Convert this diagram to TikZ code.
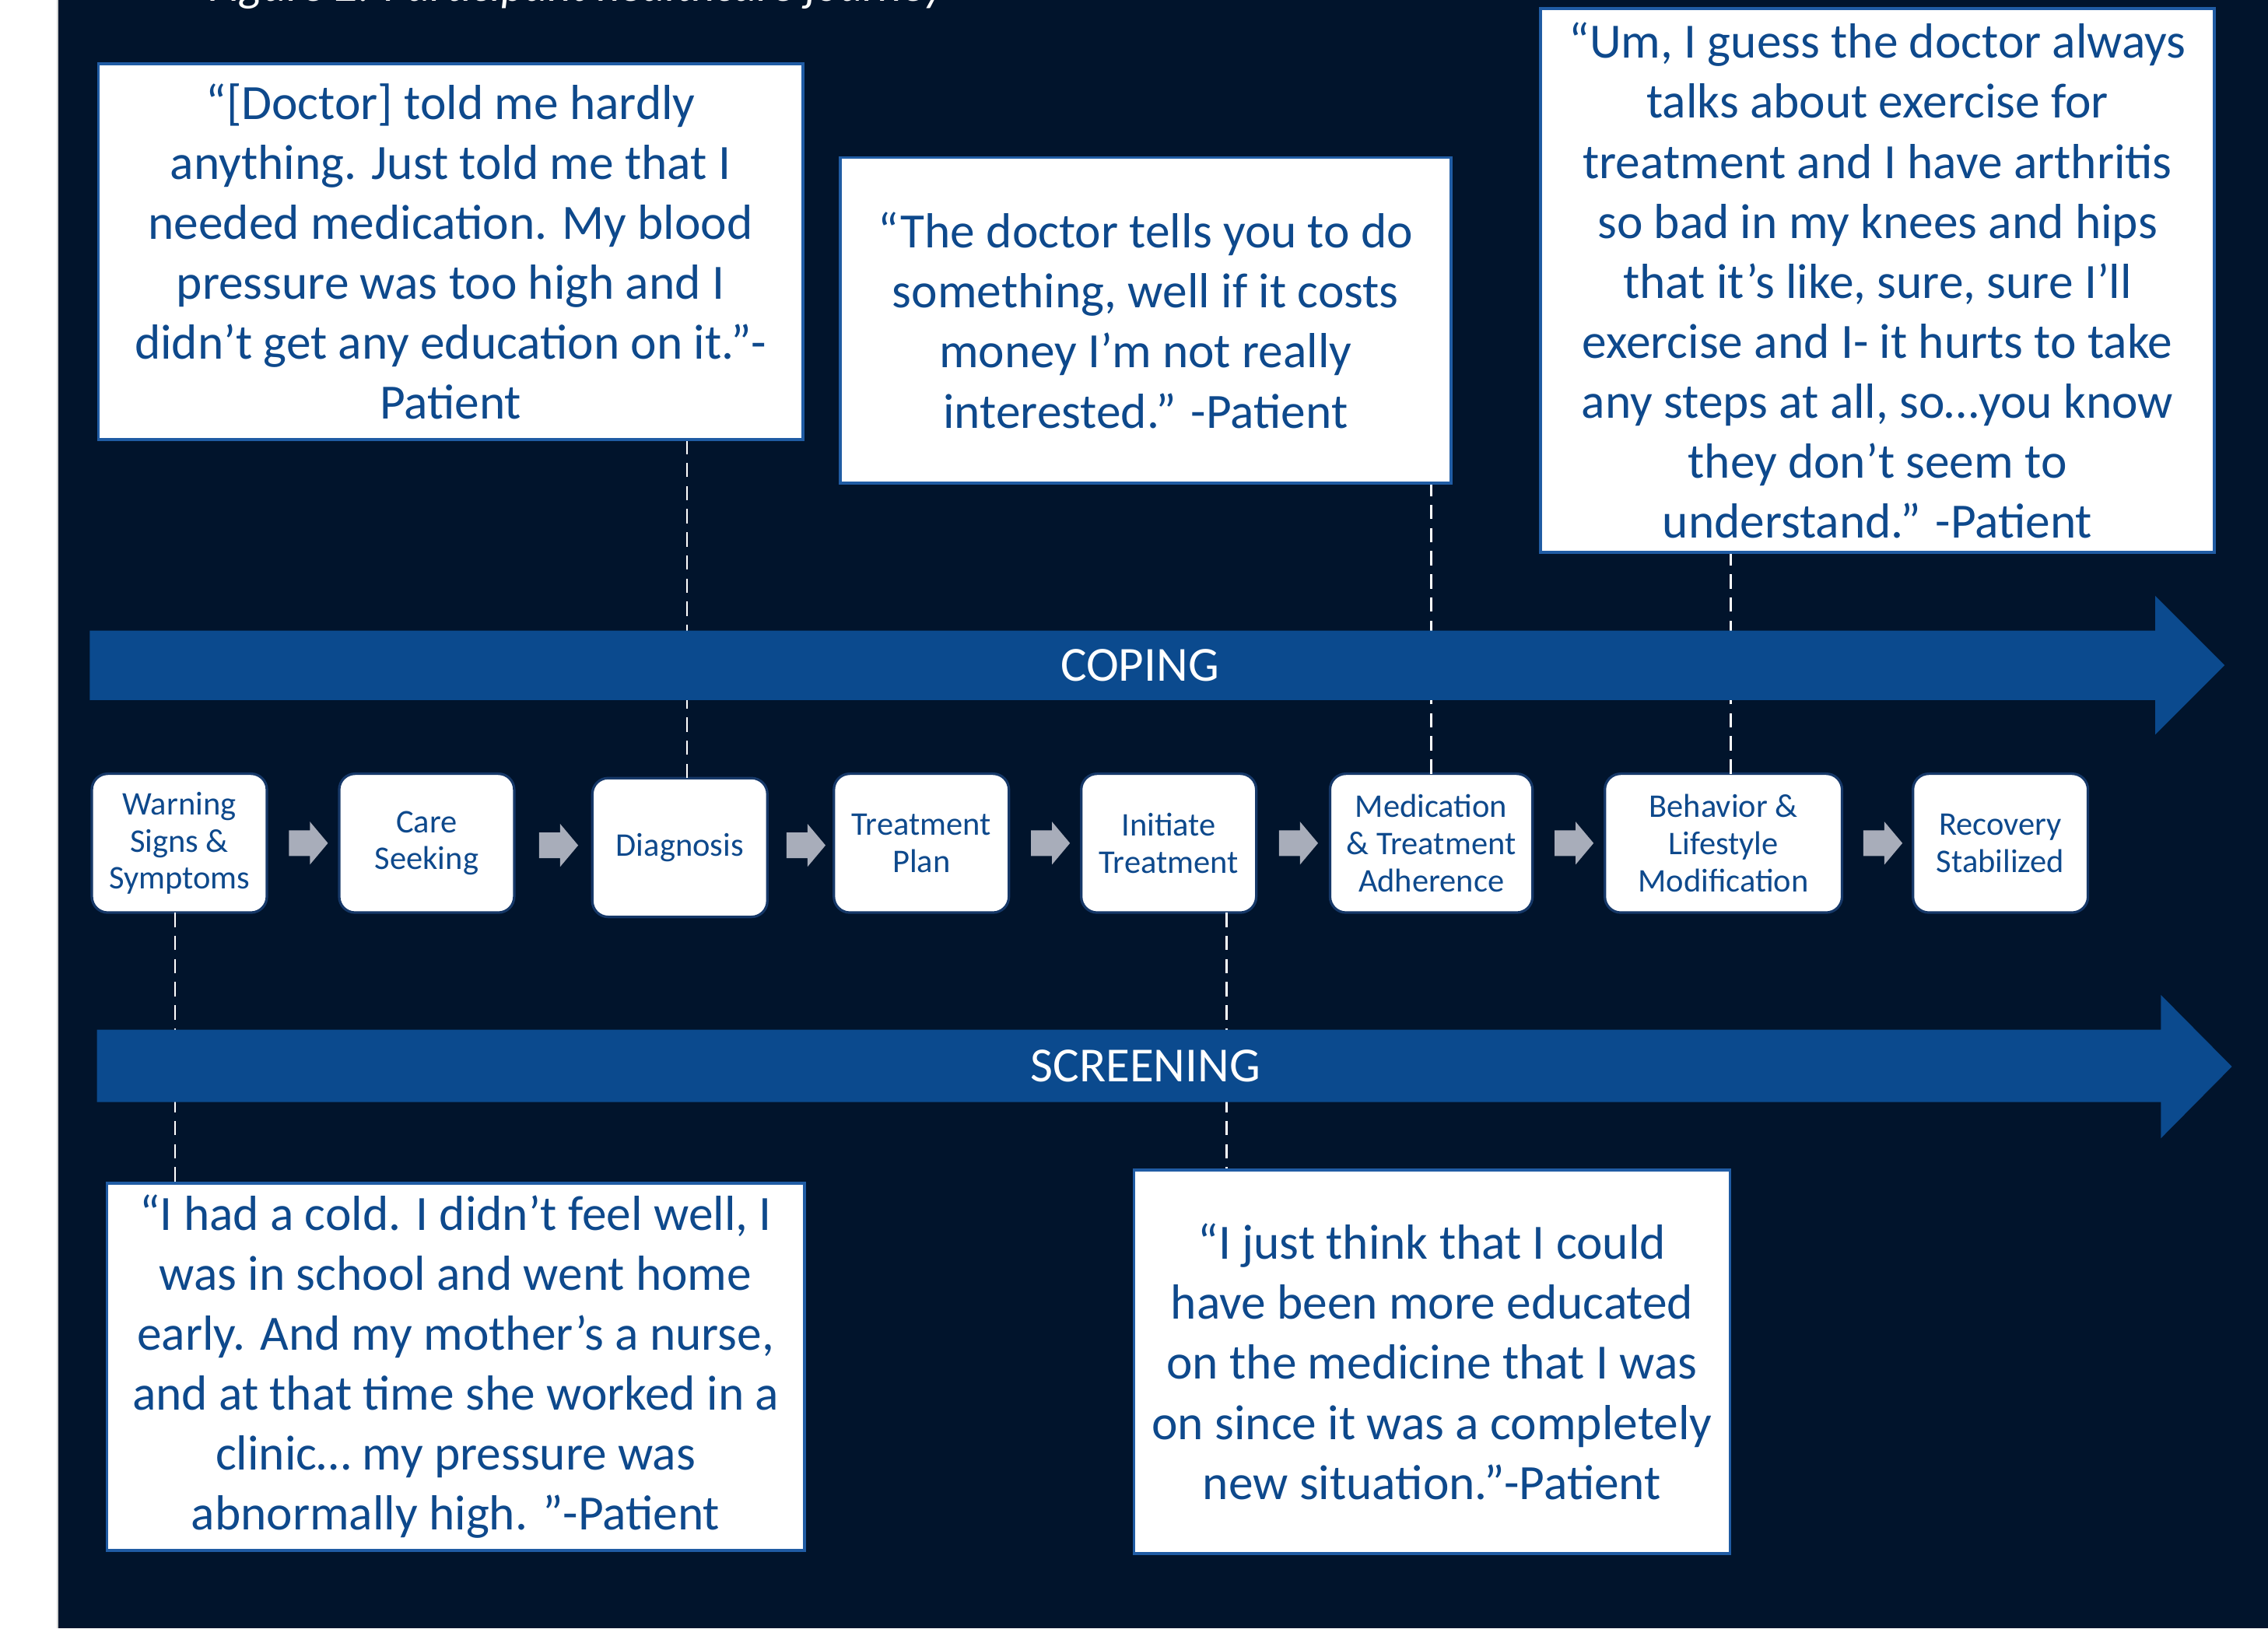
\documentclass[tikz,border=0pt]{standalone}
\usepackage{fontspec}
\setmainfont{Carlito}
\usetikzlibrary{positioning, calc, shapes.arrows}
\definecolor{navy}{RGB}{1,20,44}
\definecolor{bandblue}{RGB}{11,74,142}
\definecolor{txtblue}{RGB}{14,73,140}
\definecolor{qborder}{RGB}{32,92,164}
\definecolor{stepedge}{RGB}{22,56,104}
\definecolor{gapgray}{RGB}{168,173,186}

\begin{document}
\begin{tikzpicture}
	[x=0.2mm, y=-0.2mm,
	step box/.style={draw=stepedge, line width=0.35mm, fill=white, rounded corners=2.2mm, text=txtblue, align=center, minimum width=24.2mm, minimum height=19.2mm, inner sep=0pt, outer sep=0pt, font=\fontsize{13}{14.6}\selectfont},
	quote box/.style={draw=qborder, line width=0.4mm, fill=white, text=txtblue, align=center, inner sep=0pt, font=\fontsize{19.4}{23.6}\selectfont},
	gap arrow/.style={single arrow, fill=gapgray, minimum height=5.4mm, inner xsep=0pt, inner ysep=1.7mm, single arrow head extend=1.2mm, single arrow head indent=0pt, single arrow tip angle=100},
	dash line/.style={white, line width=0.3mm, dash pattern=on 2mm off 1.2mm},
	band/.style={fill=bandblue},
	band label/.style={text=white, font=\fontsize{19.3}{23}\selectfont}]
   \useasboundingbox (0,0) rectangle (1568,1126);
   \fill[white] (0,0) rectangle (1568,1126);
   \fill[navy] (40,0) rectangle (1568,1126);
   \draw[gray!35, line width=0.2mm] (40,0) -- (40,1126);
   \node[text=white, anchor=base west, font=\fontsize{18}{22}\selectfont\itshape] (title) at (138,1) {Figure 2: Participant healthcare journey};

   \node[step box] (s_1) at (124,583) {Warning\\Signs \&\\Symptoms};
   \node[step box] (s_2) [right=10mm of s_1] {Care\\Seeking};
   \node[step box] (s_3) [right=10.8mm of s_2, yshift=-0.6mm] {Diagnosis};
   \node[step box] (s_4) [right=9.2mm of s_3, yshift=0.6mm] {Treatment\\Plan};
   \node[step box] (s_5) [right=10mm of s_4] {Initiate\\Treatment};
   \node[step box, minimum width=28mm] (s_6) [right=10.2mm of s_5] {Medication\\\& Treatment\\Adherence};
   \node[step box, minimum width=32.8mm] (s_7) [right=10mm of s_6] {Behavior \&\\Lifestyle\\Modification};
   \node[step box] (s_8) [right=9.8mm of s_7] {Recovery\\Stabilized};
   \foreach \i/\j in {1/2,2/3,3/4,4/5,5/6,6/7,7/8}
      \node[gap arrow] (a_\i) at ($(s_\i.east)!0.5!(s_\j.west)$) {};

   \node[quote box, minimum width=97.4mm, minimum height=52mm] (qt_1) at (311.5,174) {“[Doctor] told me hardly\\anything. Just told me that I\\needed medication. My blood\\pressure was too high and I\\didn’t get any education on it.”-\\Patient};
   \node[quote box, minimum width=84.4mm, minimum height=45mm] (qt_2) at (792,221.5) {“The doctor tells you to do\\something, well if it costs\\money I’m not really\\interested.” -Patient};
   \node[quote box, minimum width=93.2mm, minimum height=75.2mm] (qt_3) at (1298,194) {“Um, I guess the doctor always\\talks about exercise for\\treatment and I have arthritis\\so bad in my knees and hips\\that it’s like, sure, sure I’ll\\exercise and I- it hurts to take\\any steps at all, so…you know\\they don’t seem to\\understand.” -Patient};
   \node[quote box, minimum width=96.4mm, minimum height=50.8mm] (qt_4) at (315,945) {“I had a cold. I didn’t feel well, I\\was in school and went home\\early. And my mother’s a nurse,\\and at that time she worked in a\\clinic… my pressure was\\abnormally high. ”-Patient};
   \node[quote box, minimum width=82.4mm, minimum height=53mm] (qt_5) at (990,941.5) {“I just think that I could\\have been more educated\\on the medicine that I was\\on since it was a completely\\new situation.”-Patient};

   \coordinate (d_1) at ($(s_3.north)+(5,0)$);
   \coordinate (d_3) at ($(s_7.north)+(5,0)$);
   \coordinate (d_4) at ($(s_1.south)+(-3,0)$);
   \coordinate (d_5) at ($(s_5.south)+(40,0)$);
   \draw[dash line] (d_1) -- (d_1 |- qt_1.south);
   \draw[dash line] (s_6.north) -- (s_6.north |- qt_2.south);
   \draw[dash line] (d_3) -- (d_3 |- qt_3.south);
   \draw[dash line] (d_4) -- (d_4 |- qt_4.north);
   \draw[dash line] (d_5) -- (d_5 |- qt_5.north);

   \fill[band] (62,436) -- (1490,436) -- (1490,412) -- (1538,460) -- (1490,508) -- (1490,484) -- (62,484) -- cycle;
   \node[band label] (coping) at (788,460) {COPING};
   \fill[band] (67,712) -- (1494,712) -- (1494,688) -- (1543,737.5) -- (1494,787) -- (1494,762) -- (67,762) -- cycle;
   \node[band label] (screening) at (792,737) {SCREENING};
\end{tikzpicture}
\end{document}
